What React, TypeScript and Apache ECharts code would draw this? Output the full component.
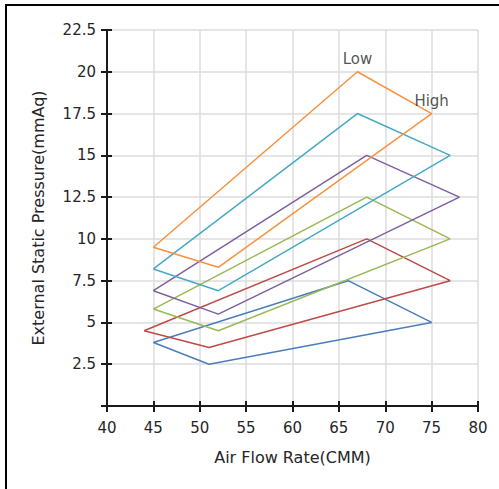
import React, { useEffect, useRef } from "react";
import * as echarts from "echarts";

const xTicks = [40, 45, 50, 55, 60, 65, 70, 75, 80];
const yTicks = [0, 2.5, 5, 7.5, 10, 12.5, 15, 17.5, 20, 22.5];

// Each envelope: left, top, right, bottom, back to left
const seriesNames = ["S1", "S2", "S3", "S4", "S5", "S6"];
const seriesColors = ["#4a7ebb", "#be4b48", "#98b954", "#7d60a0", "#46aac5", "#f69240"];
const flowValues = [
  [45, 66, 75, 51, 45],
  [44, 68, 77, 51, 44],
  [45, 68, 77, 52, 45],
  [45, 68, 78, 52, 45],
  [45, 67, 77, 52, 45],
  [45, 67, 75, 52, 45],
];
const pressureValues = [
  [3.8, 7.5, 5, 2.5, 3.8],
  [4.5, 10, 7.5, 3.5, 4.5],
  [5.8, 12.5, 10, 4.5, 5.8],
  [6.9, 15, 12.5, 5.5, 6.9],
  [8.2, 17.5, 15, 6.9, 8.2],
  [9.5, 20, 17.5, 8.3, 9.5],
];
const annotationTexts = ["Low", "High"];
const annotationX = [67, 75];
const annotationY = [20, 17.5];

const FONT = "DejaVu Sans";
const TEXT = "#262626";

export default function App() {
  const ref = useRef<HTMLDivElement>(null);
  useEffect(() => {
    if (!ref.current) return;
    const chart = echarts.init(ref.current, null, { renderer: "svg" });
    const xMin = xTicks[0];
    const xMax = xTicks[xTicks.length - 1];
    const yMin = yTicks[0];
    const yMax = yTicks[yTicks.length - 1];
    const xInterval = xTicks[1] - xTicks[0];
    const yInterval = yTicks[1] - yTicks[0];
    const axisLine = { show: true, onZero: false, lineStyle: { color: "#1a1a1a", width: 2 } };
    const lineSeries = seriesNames.map((name, i) => ({
      name,
      type: "line",
      xAxisIndex: 0,
      yAxisIndex: 0,
      showSymbol: false,
      symbol: "none",
      lineStyle: { color: seriesColors[i], width: 1.5 },
      itemStyle: { color: seriesColors[i] },
      data: flowValues[i].map((x, j) => [x, pressureValues[i][j]]),
      z: 3 + i,
    }));
    chart.setOption({
      animation: false,
      graphic: [
        {
          type: "rect",
          shape: { x: 6, y: 5, width: 1000, height: 1000 },
          style: { fill: "none", stroke: "#000", lineWidth: 2 },
          silent: true,
          z: 100,
        },
      ],
      grid: { left: 107, right: 21, top: 30, bottom: 83, containLabel: false },
      xAxis: [
        {
          type: "value",
          min: xMin,
          max: xMax,
          interval: xInterval,
          name: "Air Flow Rate(CMM)",
          nameLocation: "middle",
          nameGap: 43,
          nameTextStyle: { fontFamily: FONT, fontSize: 16, color: TEXT },
          axisLine,
          axisTick: { show: true, inside: false, length: 6, lineStyle: { color: "#1a1a1a", width: 2 } },
          axisLabel: { fontFamily: FONT, fontSize: 15, color: TEXT, margin: 14 },
          splitLine: { show: true, lineStyle: { color: "#dcdcdc", width: 1.5 } },
        },
        {
          type: "value",
          min: xMin,
          max: xMax,
          interval: xInterval,
          position: "bottom",
          axisLine,
          axisTick: { show: true, inside: true, length: 5, lineStyle: { color: "#1a1a1a", width: 2 } },
          axisLabel: { show: false },
          splitLine: { show: false },
        },
      ],
      yAxis: [
        {
          type: "value",
          min: yMin,
          max: yMax,
          interval: yInterval,
          name: "External Static Pressure(mmAq)",
          nameLocation: "middle",
          nameGap: 61,
          nameRotate: 90,
          nameTextStyle: { fontFamily: FONT, fontSize: 16, color: TEXT },
          axisLine,
          axisTick: { show: true, inside: false, length: 6, lineStyle: { color: "#1a1a1a", width: 2 } },
          axisLabel: {
            fontFamily: FONT,
            fontSize: 15,
            color: TEXT,
            margin: 11,
            formatter: (v: number) => (v === 0 ? "" : String(v)),
          },
          splitLine: { show: true, lineStyle: { color: "#dcdcdc", width: 1.5 } },
        },
        {
          type: "value",
          min: yMin,
          max: yMax,
          interval: yInterval,
          position: "left",
          axisLine,
          axisTick: { show: true, inside: true, length: 5, lineStyle: { color: "#1a1a1a", width: 2 } },
          axisLabel: { show: false },
          splitLine: { show: false },
        },
      ],
      series: [
        ...lineSeries,
        {
          type: "scatter",
          xAxisIndex: 0,
          yAxisIndex: 0,
          symbolSize: 0,
          data: annotationTexts.map((t, i) => ({ value: [annotationX[i], annotationY[i]], name: t })),
          label: {
            show: true,
            position: "top",
            distance: 5,
            formatter: (p: any) => p.name,
            fontFamily: FONT,
            fontSize: 15,
            color: TEXT,
          },
          z: 20,
        },
      ],
    });
    return () => chart.dispose();
  }, []);
  return (
    <div
      ref={ref}
      style={{ position: "fixed", left: 0, top: 0, width: 499, height: 489, background: "#fff" }}
    />
  );
}
